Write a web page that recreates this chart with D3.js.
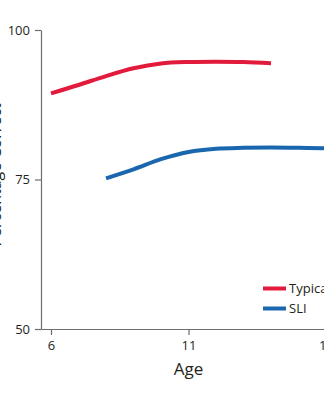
<!DOCTYPE html>
<html>
<head>
<meta charset="utf-8">
<script src="https://cdn.jsdelivr.net/npm/d3@7"></script>
<style>
  html, body { margin: 0; padding: 0; background: #fff; overflow: hidden; }
  svg { display: block; font-family: "Open Sans", sans-serif; }
</style>
</head>
<body>
<svg id="chart" width="324" height="400"></svg>
<script>
// Data
const typicalAges   = [6, 7, 8, 9, 10, 11, 12, 13, 14];
const typicalValues = [89.4, 90.8, 92.3, 93.6, 94.4, 94.65, 94.7, 94.65, 94.45];
const sliAges       = [8, 9, 10, 11, 12, 13, 14, 15, 16, 16.5];
const sliValues     = [75.2, 76.7, 78.4, 79.6, 80.15, 80.3, 80.35, 80.3, 80.2, 80.1];
const xTicks = [6, 11, 16];
const yTicks = [50, 75, 100];
const seriesNames = ["Typical", "SLI"];
const seriesColors = ["#e21a3c", "#1a67b0"];

const svg = d3.select("#chart");
const axisColor = "#6d6e71";
const textColor = "#231f20";

const x0 = d3.scaleLinear().domain([6, 11]).range([51, 188.5]);
const x = d3.scaleLinear().domain([x0.invert(41), x0.invert(340)]).range([41, 340]);
const y = d3.scaleLinear().domain([50, 100]).range([329, 30]);

// Y axis
const gy = svg.append("g").attr("transform", "translate(41,0)")
  .call(d3.axisLeft(y).tickValues(yTicks).tickSize(6).tickSizeOuter(0).tickPadding(5));
gy.selectAll("text").attr("font-size", 13).attr("fill", textColor).attr("font-family", "Open Sans");
gy.selectAll("line, path").attr("stroke", axisColor).attr("stroke-width", 1.2);

// X axis
const gx = svg.append("g").attr("transform", "translate(0,329)")
  .call(d3.axisBottom(x).tickValues(xTicks).tickSize(6).tickSizeOuter(0).tickPadding(6));
gx.selectAll("text").attr("font-size", 13).attr("fill", textColor).attr("font-family", "Open Sans");
gx.selectAll("line, path").attr("stroke", axisColor).attr("stroke-width", 1.2);

// Axis titles
svg.append("text")
  .attr("x", x(11)).attr("y", 375)
  .attr("text-anchor", "middle")
  .attr("font-size", 17).attr("fill", textColor)
  .text("Age");
svg.append("text")
  .attr("transform", "translate(1,175) rotate(-90)")
  .attr("text-anchor", "middle")
  .attr("font-size", 16).attr("fill", textColor)
  .text("Percentage Correct");

// Lines
const line = d3.line().x(d => x(d[0])).y(d => y(d[1])).curve(d3.curveCatmullRom.alpha(0.5));
const series = [
  typicalAges.map((a, i) => [a, typicalValues[i]]),
  sliAges.map((a, i) => [a, sliValues[i]])
];
series.forEach((s, i) => {
  svg.append("path").datum(s)
    .attr("d", line)
    .attr("fill", "none")
    .attr("stroke", seriesColors[i])
    .attr("stroke-width", 4)
    .attr("stroke-linecap", "butt");
});

// Legend
const legend = svg.append("g");
seriesNames.forEach((name, i) => {
  const ly = 288.5 + i * 20;
  legend.append("line")
    .attr("x1", 263).attr("x2", 286).attr("y1", ly).attr("y2", ly)
    .attr("stroke", seriesColors[i]).attr("stroke-width", 4);
  legend.append("text")
    .attr("x", 289).attr("y", ly).attr("dy", "0.35em")
    .attr("font-size", 13).attr("fill", textColor)
    .text(name);
});
</script>
</body>
</html>
